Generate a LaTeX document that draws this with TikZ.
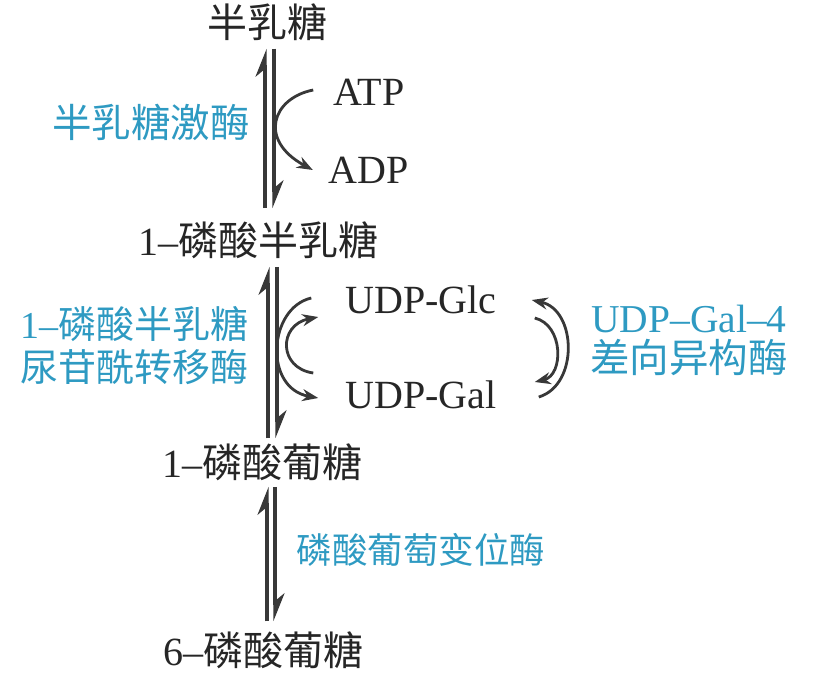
\documentclass[tikz,border=0pt]{standalone}
\usepackage{fontspec}
\setmainfont{Liberation Serif}
\newfontfamily\cjk{Noto Sans CJK SC}
\usetikzlibrary{arrows.meta,calc}
\definecolor{ink}{HTML}{262626}
\definecolor{enz}{HTML}{2E9AC2}
\definecolor{linegray}{HTML}{383838}
\newcommand\zh[1]{{\cjk #1}}
\begin{document}
\begin{tikzpicture}[x=1pt,y=-1pt,
  lbl/.style={inner sep=0pt, text=ink, font=\fontsize{40}{44}\selectfont},
  enzlbl/.style={inner sep=0pt, text=enz, font=\fontsize{39.5}{43}\selectfont, align=center},
  rxn/.style={line width=3.2pt, draw=linegray, -{Stealth[left,length=24pt,width=19pt]}},
  cur/.style={line width=2.8pt, draw=linegray, -{Stealth[length=16pt,width=12pt]}}]
\useasboundingbox (0,0) rectangle (818,678);
% metabolites
\node[lbl] (gal)   at (267,22)  {\zh{半乳糖}};
\node[lbl] (gal1p) at (258,240) {1–\zh{磷酸半乳糖}};
\node[lbl] (glc1p) at (262,462) {1–\zh{磷酸葡糖}};
\node[lbl] (glc6p) at (263,650) {6–\zh{磷酸葡糖}};
\node[lbl] (atp)   at (369,92)  {ATP};
\node[lbl] (adp)   at (369,170) {ADP};
\node[lbl] (udpglc) at (421,300) {UDP-Glc};
\node[lbl] (udpgal) at (421,395) {UDP-Gal};
% enzymes
\node[enzlbl] (e1) at (151,122) {\zh{半乳糖激酶}};
\node[enzlbl, font=\fontsize{38}{43}\selectfont] (e2) at (134,346) {1–\zh{磷酸半乳糖}\\\zh{尿苷酰转移酶}};
\node[enzlbl] (e3) at (689,340) {UDP–Gal–4\\[-3pt]\zh{差向异构酶}};
\node[enzlbl, font=\fontsize{35.5}{40}\selectfont] (e4) at (421,550) {\zh{磷酸葡萄变位酶}};
% reversible reaction arrows (harpoons)
\draw[rxn] ($(gal1p.north -| gal.south)+(-2,-13)$) -- ($(gal.south)+(-2,8)$);
\draw[rxn] ($(gal.south)+(7,8)$) -- ($(gal1p.north -| gal.south)+(7,-13)$);
\draw[rxn] ($(glc1p.north -| gal.south)+(1,-5)$) -- ($(gal1p.south -| gal.south)+(1,8)$);
\draw[rxn] ($(gal1p.south -| gal.south)+(10,8)$) -- ($(glc1p.north -| gal.south)+(10,-5)$);
\draw[rxn] ($(glc6p.north -| gal.south)+(0,-10)$) -- ($(glc1p.south -| gal.south)+(0,6)$);
\draw[rxn] ($(glc1p.south -| gal.south)+(8,6)$) -- ($(glc6p.north -| gal.south)+(8,-10)$);
% ATP -> ADP
\draw[cur] ($(atp.west)+(-20,-2)$) .. controls +(-41,8) and +(-55,-30) .. ($(adp.west)+(-16,0)$);
% UDP-Glc / UDP-Gal coupling
\draw[cur] ($(udpglc.west)+(-34,-2)$) .. controls +(-43,10) and +(-55,-10) .. ($(udpgal.west)+(-27,3)$);
\draw[cur] ($(udpgal.west)+(-32,-22)$) .. controls +(-35,-5) and +(-40,8) .. ($(udpglc.west)+(-27,17)$);
% epimerase arcs
\draw[cur] ($(udpgal.east)+(42,2)$) .. controls +(40,-12) and +(45,10) .. ($(udpglc.east)+(35,0)$);
\draw[cur] ($(udpglc.east)+(38,18)$) .. controls +(29,7) and +(29,-7) .. ($(udpgal.east)+(38,-13)$);
\end{tikzpicture}
\end{document}
